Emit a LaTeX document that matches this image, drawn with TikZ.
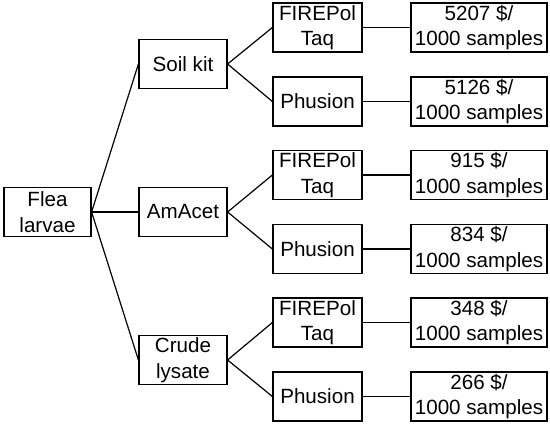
\documentclass[tikz,border=0pt]{standalone}
\usepackage{fontspec}
\setmainfont{Liberation Sans}
\begin{document}
\begin{tikzpicture}[x=1pt,y=-1pt,
  base/.style={draw, line width=1.2pt, minimum height=49pt, align=center, inner sep=0pt,
    font=\fontsize{20.6}{25.5}\selectfont},
  rootbox/.style={base, minimum width=87pt},
  midbox/.style={base, minimum width=88pt},
  leafbox/.style={base, minimum width=89pt},
  costbox/.style={base, minimum width=136pt},
  link/.style={line width=1.2pt}]
\useasboundingbox (0,0) rectangle (550,425);
\node[rootbox] (flea) at (47.5,212) {Flea\\larvae};
\node[midbox] (soil) at (183,64) {Soil kit};
\node[midbox] (amacet) at (183,212) {AmAcet};
\node[midbox] (crude) at (183,360) {Crude\\lysate};
\node[leafbox] (t1) at (317.5,27.5) {FIREPol\\Taq};
\node[leafbox] (p1) at (317.5,101.5) {Phusion};
\node[leafbox] (t2) at (317.5,175) {FIREPol\\Taq};
\node[leafbox] (p2) at (317.5,249) {Phusion};
\node[leafbox] (t3) at (317.5,322.5) {FIREPol\\Taq};
\node[leafbox] (p3) at (317.5,396.5) {Phusion};
\node[costbox] (c1) at (479,27.5) {5207 \$/\\1000 samples};
\node[costbox] (c2) at (479,101.5) {5126 \$/\\1000 samples};
\node[costbox] (c3) at (479,175) {915 \$/\\1000 samples};
\node[costbox] (c4) at (479,249) {834 \$/\\1000 samples};
\node[costbox] (c5) at (479,322.5) {348 \$/\\1000 samples};
\node[costbox] (c6) at (479,396.5) {266 \$/\\1000 samples};
\foreach \m in {soil,amacet,crude} \draw[link] (flea.east) -- (\m.west);
\draw[link] (soil.east) -- (t1.west);
\draw[link] (soil.east) -- (p1.west);
\draw[link] (amacet.east) -- (t2.west);
\draw[link] (amacet.east) -- (p2.west);
\draw[link] (crude.east) -- (t3.west);
\draw[link] (crude.east) -- (p3.west);
\draw[link] (t1) -- (c1);
\draw[link] (p1) -- (c2);
\draw[link] (t2) -- (c3);
\draw[link] (p2) -- (c4);
\draw[link] (t3) -- (c5);
\draw[link] (p3) -- (c6);
\end{tikzpicture}
\end{document}
